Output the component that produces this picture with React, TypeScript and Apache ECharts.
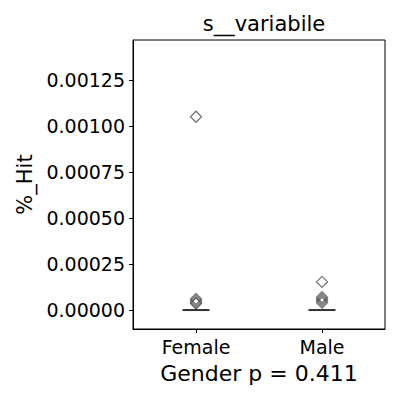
import React, { useEffect, useRef } from "react";
import * as echarts from "echarts";

const categories = ["Female", "Male"];
const medians = [0, 0];
const femaleOutliers = [0.00105, 0.00006, 0.00005, 0.00004, 0.000035];
const maleOutliers = [0.000153, 0.00007, 0.00006, 0.00005, 0.00004];
const yTicks = [0, 0.00025, 0.0005, 0.00075, 0.001, 0.00125];

const FONT = "DejaVu Sans";

export default function App() {
  const ref = useRef<HTMLDivElement>(null);
  useEffect(() => {
    if (!ref.current) return;
    const chart = echarts.init(ref.current, undefined, { renderer: "svg" });
    const outlierData: [string, number][] = [];
    femaleOutliers.forEach((v) => outlierData.push([categories[0], v]));
    maleOutliers.forEach((v) => outlierData.push([categories[1], v]));
    chart.setOption({
      animation: false,
      backgroundColor: "#ffffff",
      title: {
        text: "s__variabile",
        left: 259,
        textAlign: "center",
        top: 8,
        textStyle: { fontFamily: FONT, fontSize: 21, fontWeight: "normal", color: "#000" },
      },
      grid: {
        left: 133,
        right: 15,
        top: 40,
        bottom: 71,
        show: true,
        borderColor: "#000",
        borderWidth: 1,
        backgroundColor: "transparent",
      },
      xAxis: {
        type: "category",
        data: categories,
        name: "Gender p = 0.411",
        nameLocation: "middle",
        nameGap: 33,
        nameTextStyle: { fontFamily: FONT, fontSize: 22, color: "#000" },
        axisLine: { show: true, onZero: false, lineStyle: { color: "#000", width: 1 } },
        axisTick: { show: true, alignWithLabel: true, length: 4, lineStyle: { color: "#000" } },
        axisLabel: { fontFamily: FONT, fontSize: 19, color: "#000", margin: 8 },
        splitLine: { show: false },
      },
      yAxis: {
        type: "value",
        min: -0.000103,
        max: 0.001467,
        name: "%_Hit",
        nameLocation: "middle",
        nameGap: 97,
        nameTextStyle: { fontFamily: FONT, fontSize: 21, color: "#000" },
        axisLine: { show: true, lineStyle: { color: "#000", width: 1 } },
        axisTick: { show: true, length: 4, lineStyle: { color: "#000" }, customValues: yTicks },
        axisLabel: {
          fontFamily: FONT,
          fontSize: 19,
          color: "#000",
          margin: 8,
          customValues: yTicks,
          formatter: (v: number) => v.toFixed(5),
        },
        splitLine: { show: false },
      },
      series: [
        {
          type: "scatter",
          data: outlierData,
          symbol: "diamond",
          symbolSize: 11,
          itemStyle: { color: "rgba(255,255,255,0)", borderColor: "#555555", borderWidth: 1.3 },
          z: 3,
        },
        {
          type: "scatter",
          data: categories.map((c, i) => [c, medians[i]]),
          symbol: "rect",
          symbolSize: [27, 2],
          itemStyle: { color: "#000000" },
          z: 4,
        },
      ],
    });
    return () => chart.dispose();
  }, []);
  return <div ref={ref} style={{ width: 400, height: 400, position: "absolute", left: 0, top: 0 }} />;
}
